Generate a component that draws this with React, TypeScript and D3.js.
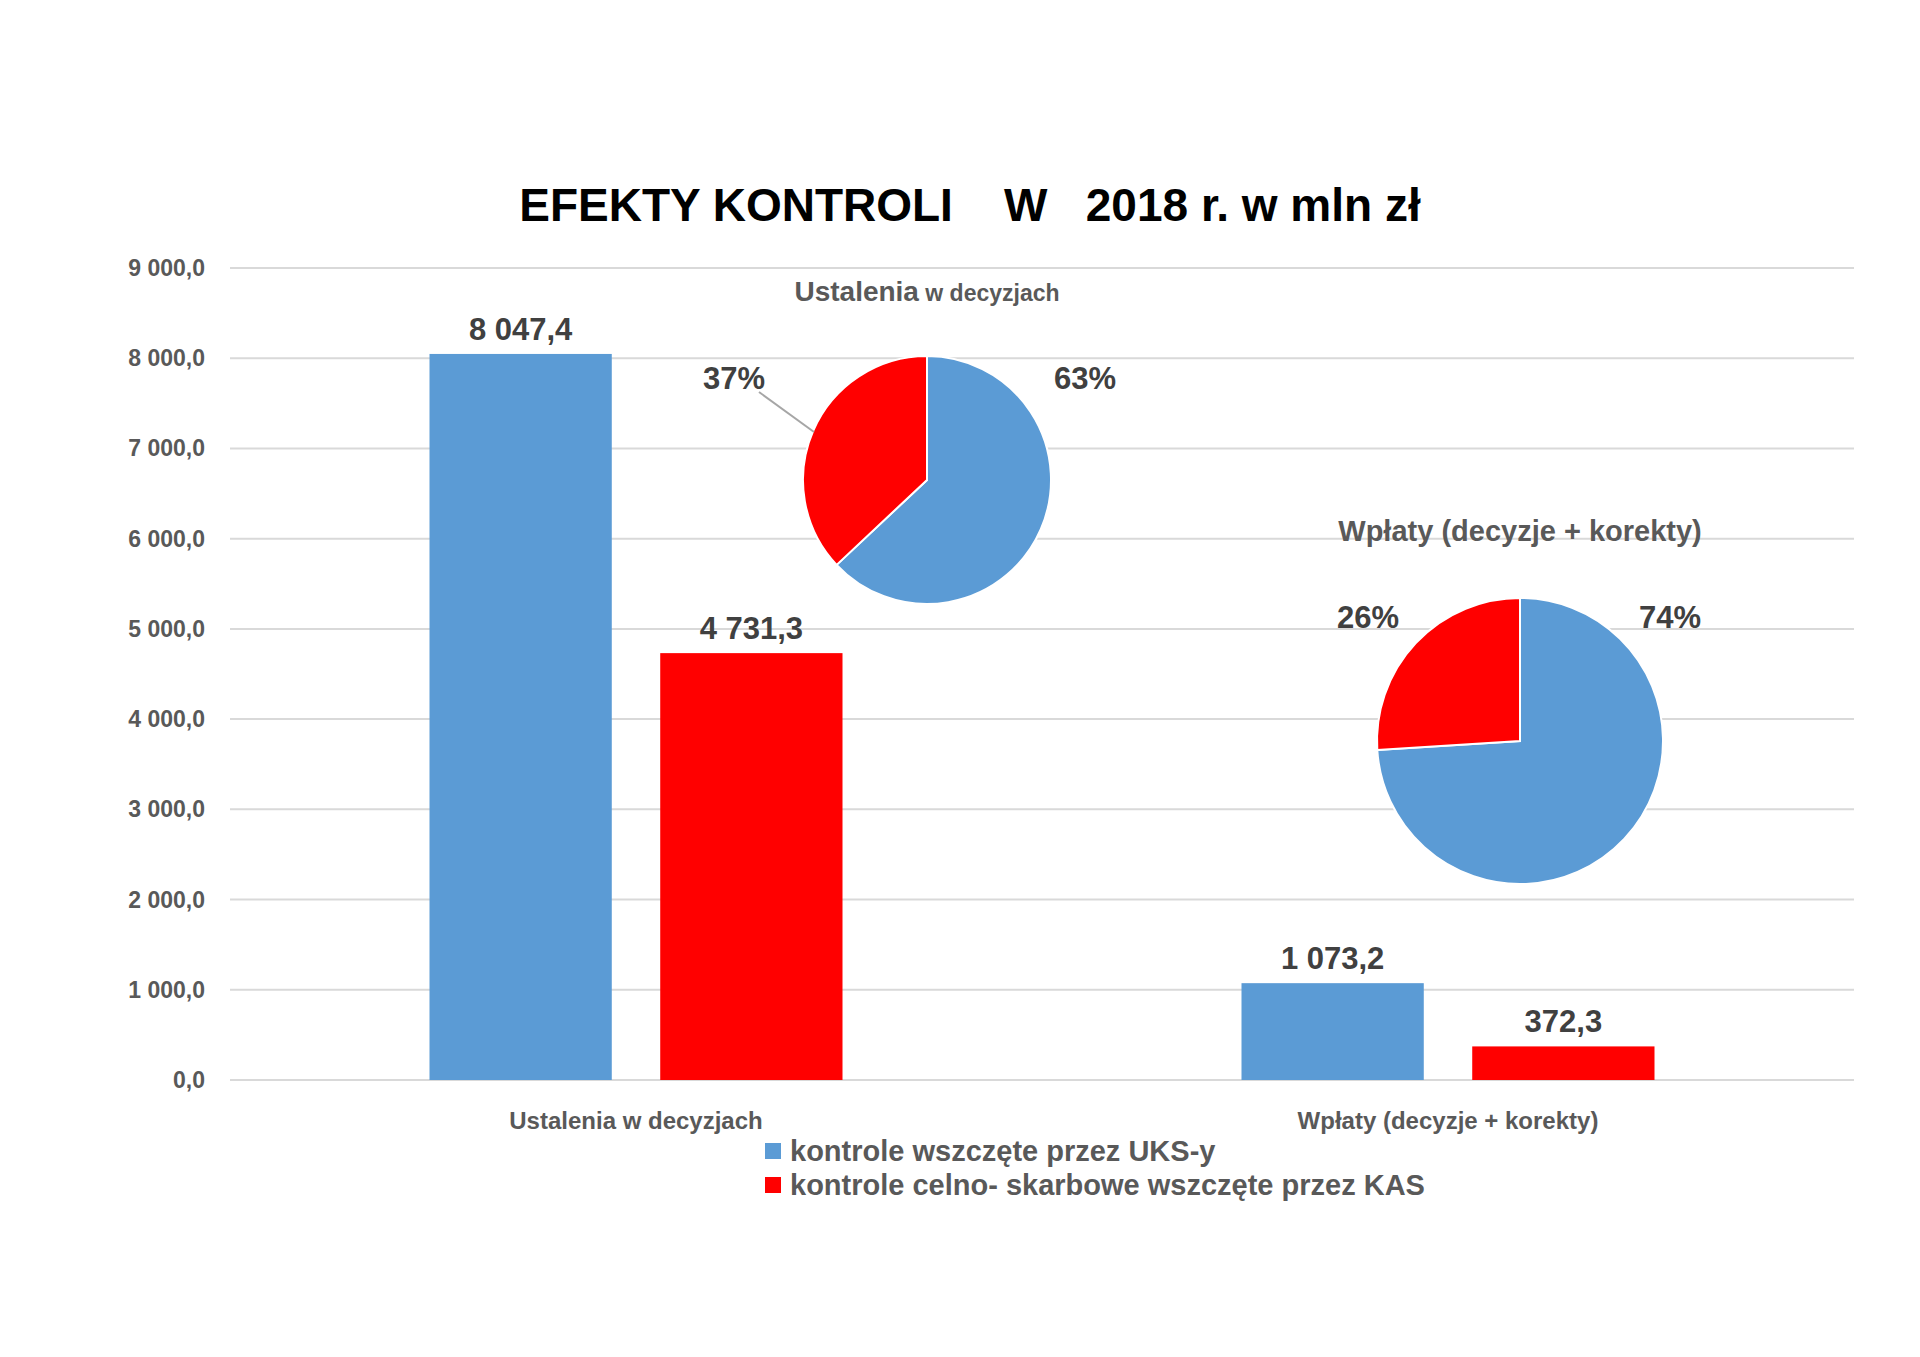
import * as d3 from "d3";

const categories = ["Ustalenia w decyzjach", "Wpłaty (decyzje + korekty)"];
const seriesNames = ["kontrole wszczęte przez UKS-y", "kontrole celno- skarbowe wszczęte przez KAS"];
const ustSeries = [8047.4, 4731.3];
const wplSeries = [1073.2, 372.3];
const yTicks = [0, 1000, 2000, 3000, 4000, 5000, 6000, 7000, 8000, 9000];
const pieUst = [63, 37];
const pieWpl = [74, 26];
const colors = ["#5b9bd5", "#ff0000"];

const fmt = (v: number) => {
  const [i, d] = v.toFixed(1).split(".");
  return i.replace(/\B(?=(\d{3})+(?!\d))/g, " ") + "," + d;
};

const W = 1920, H = 1357;
const FONT = "Liberation Sans, Arial, sans-serif";

function Pie({ cx, cy, r, values, labels }: { cx: number; cy: number; r: number; values: number[]; labels: { x: number; y: number }[] }) {
  const arcs = d3.pie<number>().sort(null)(values);
  const arc = d3.arc<d3.PieArcDatum<number>>().innerRadius(0).outerRadius(r);
  return (
    <g>
      <g transform={`translate(${cx},${cy})`}>
        {arcs.map((a, i) => (
          <path key={i} d={arc(a) || ""} fill={colors[i]} stroke="#fff" strokeWidth={2} />
        ))}
      </g>
      {labels.map((l, i) => (
        <text key={i} x={l.x} y={l.y} textAnchor="middle" fontSize={31} fontWeight="bold" fill="#404040">{values[i]}%</text>
      ))}
    </g>
  );
}

export default function App() {
  const left = 222, right = 1846, top = 260, bottom = 1072;
  const x0 = d3.scaleBand().domain(categories).range([left, right]);
  const x1 = d3.scaleBand().domain(["0", "1"]).range([0, 413]).paddingInner(0.21);
  const y = d3.scaleLinear().domain([0, 9000]).range([bottom, top]);
  const data = [ustSeries, wplSeries];

  return (
    <svg width={W} height={H} style={{ display: "block", fontFamily: FONT }}>
      <rect width={W} height={H} fill="#fff" />
      <text x={962} y={213} textAnchor="middle" fontSize={46} fontWeight="bold" fill="#000" style={{ whiteSpace: "pre" }}>
        {"EFEKTY KONTROLI    W   2018 r. w mln zł"}
      </text>
      {yTicks.map(t => (
        <g key={t}>
          <line x1={left} x2={right} y1={y(t)} y2={y(t)} stroke="#d9d9d9" strokeWidth={2} />
          <text x={197} y={y(t) + 8} textAnchor="end" fontSize={23} fontWeight="bold" fill="#595959">{fmt(t)}</text>
        </g>
      ))}
      {categories.map((c, ci) => {
        const bx = (x0(c) || 0) + (x0.bandwidth() - 413) / 2;
        return (
          <g key={c}>
            {data[ci].map((v, si) => {
              const xx = bx + (x1(String(si)) || 0);
              return (
                <g key={si}>
                  <rect x={xx} y={y(v)} width={x1.bandwidth()} height={bottom - y(v)} fill={colors[si]} />
                  <text x={xx + x1.bandwidth() / 2} y={y(v) - 14} textAnchor="middle" fontSize={31} fontWeight="bold" fill="#404040">{fmt(v)}</text>
                </g>
              );
            })}
            <text x={(x0(c) || 0) + x0.bandwidth() / 2} y={1121} textAnchor="middle" fontSize={24} fontWeight="bold" fill="#595959">{c}</text>
          </g>
        );
      })}
      {seriesNames.map((s, i) => (
        <g key={s}>
          <rect x={757} y={1135 + i * 34} width={16} height={16} fill={colors[i]} />
          <text x={782} y={1153 + i * 34} fontSize={29} fontWeight="bold" fill="#595959">{s}</text>
        </g>
      ))}
      <text x={919} y={293} textAnchor="middle" fontWeight="bold" fill="#595959">
        <tspan fontSize={28}>Ustalenia</tspan><tspan fontSize={23}> w decyzjach</tspan>
      </text>
      <Pie cx={919} cy={472} r={124} values={pieUst} labels={[{ x: 1077, y: 381 }, { x: 726, y: 381 }]} />
      <line x1={751} y1={384} x2={806} y2={424} stroke="#a6a6a6" strokeWidth={2} />
      <text x={1512} y={533} textAnchor="middle" fontSize={29} fontWeight="bold" fill="#595959">Wpłaty (decyzje + korekty)</text>
      <Pie cx={1512} cy={733} r={143} values={pieWpl} labels={[{ x: 1662, y: 620 }, { x: 1360, y: 620 }]} />
    </svg>
  );
}
